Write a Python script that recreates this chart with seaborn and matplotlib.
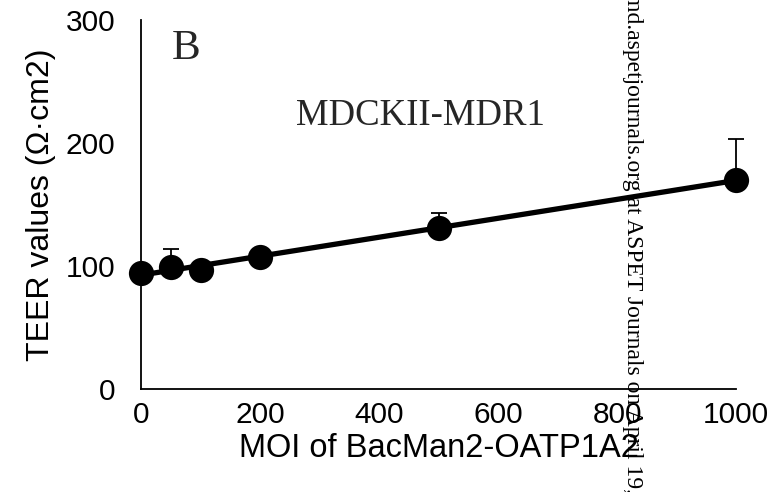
import numpy as np
import pandas as pd
import matplotlib
matplotlib.use("Agg")
import matplotlib.pyplot as plt
import seaborn as sns

# MOI of BacMan2-OATP1A2 and measured TEER (mean, upper SD)
moi = [0, 50, 100, 200, 500, 1000]
teer = [94, 99, 97, 107, 131, 170]
teer_sd = [3, 15, 3, 3, 12, 33]

x_ticks = [0, 200, 400, 600, 800, 1000]
y_ticks = [0, 100, 200, 300]

df = pd.DataFrame({"moi": moi, "teer": teer, "sd": teer_sd})

sns.set_style("white")
plt.rcParams["font.family"] = ["Liberation Sans", "DejaVu Sans"]

fig = plt.figure(figsize=(7.82, 4.92), dpi=100)
ax = fig.add_axes([141 / 782, 1 - 389 / 492, 595 / 782, 369 / 492])

# upward-only error bars
eb = ax.errorbar(df["moi"], df["teer"], yerr=[np.zeros(len(df)), df["sd"]],
                 fmt="none", ecolor="black", elinewidth=1.3, capsize=6,
                 capthick=1.3, zorder=2)
for artist in eb.lines[1] + eb.lines[2]:
    artist.set_clip_on(False)

# linear fit over the data range
sns.regplot(data=df, x="moi", y="teer", ax=ax, scatter=False, ci=None,
            truncate=True, color="black", line_kws={"lw": 3.8, "zorder": 3})

sns.scatterplot(data=df, x="moi", y="teer", ax=ax, s=330, color="black",
                edgecolor="black", linewidth=0, zorder=4, legend=False)
for coll in ax.collections:
    coll.set_clip_on(False)
for line in ax.lines:
    line.set_clip_on(False)

ax.set_xlim(0, 1000)
ax.set_ylim(0, 300)
ax.set_xticks(x_ticks)
ax.set_yticks(y_ticks)

for side in ("top", "right"):
    ax.spines[side].set_visible(False)
for side in ("left", "bottom"):
    ax.spines[side].set_color("black")
    ax.spines[side].set_linewidth(1.3)

ax.tick_params(axis="both", which="major", direction="out", length=6.5,
               width=1.3, color="black", labelsize=21.5, labelcolor="black")
ax.tick_params(axis="y", pad=12)
ax.tick_params(axis="x", pad=2)

ax.set_xlabel("MOI of BacMan2-OATP1A2", fontsize=23.5, color="black", labelpad=3)
ax.set_ylabel("TEER values (Ω·cm2)", fontsize=23, color="black", labelpad=7)

ax.text(0.052, 0.975, "B", transform=ax.transAxes, fontsize=31,
        family="Liberation Serif", va="top", ha="left")
ax.text(0.47, 0.74, "MDCKII-MDR1", transform=ax.transAxes, fontsize=26.5,
        family="Liberation Serif", va="center", ha="center")

# vertical download stamp along the right-hand side
fig.text(632 / 782, 1 + 197 / 492,
         "Downloaded from dmd.aspetjournals.org at ASPET Journals on April 19, 2024",
         rotation=270, rotation_mode="anchor", ha="left", va="center",
         fontsize=17, family="Liberation Serif", color="black")

fig.savefig("out.png", dpi=100)
